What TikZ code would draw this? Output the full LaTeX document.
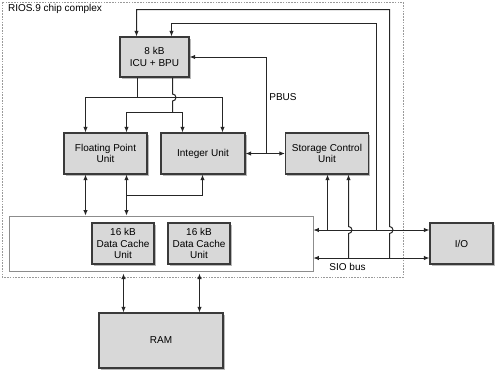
\documentclass[tikz,border=0pt]{standalone}
\usepackage{fontspec}
\setmainfont{Liberation Sans}
\usetikzlibrary{arrows.meta,shadows}
\definecolor{boxgray}{HTML}{D8D8D8}
\definecolor{edgegray}{HTML}{3A3A3A}
\definecolor{framegray}{HTML}{9A9A9A}
\tikzset{
  unitbox/.style={draw=edgegray, line width=1.2pt, fill=boxgray, align=center, inner sep=1pt,
    drop shadow={shadow xshift=1.8pt, shadow yshift=-1.8pt, fill=black!55, opacity=.5}},
  wire/.style={line width=1pt, draw=black!85},
  >={Latex[length=5.5pt,width=4.5pt]}
}
\begin{document}
\begin{tikzpicture}[x=1pt, y=-1pt, font=\fontsize{10}{11.6}\selectfont]
    \useasboundingbox (0,0) rectangle (500,376);
    % chip complex frame
    \draw [framegray, line width=0.7pt, dash pattern=on 1.6pt off 1.2pt] (2,2) rectangle (403,277);
    \node [anchor=west] (chip) at (4.5,8.5) {RIOS.9 chip complex};
    \node [draw=black!45, line width=0.8pt, fill=white, minimum width=304pt, minimum height=55pt, inner sep=0] (mem) at (161,243.5) {};
    % units
    \node [unitbox, minimum width=69pt, minimum height=40pt] (icu) at (154.5,57) {8 kB\\ICU + BPU};
    \node [unitbox, minimum width=83pt, minimum height=41pt] (fpu) at (105.5,153.5) {Floating Point\\Unit};
    \node [unitbox, minimum width=84pt, minimum height=41pt] (iu) at (203,153.5) {Integer Unit};
    \node [unitbox, minimum width=83pt, minimum height=41pt] (scu) at (327,153.5) {Storage Control\\Unit};
    \node [unitbox, minimum width=62pt, minimum height=41pt] (dca) at (123,243.5) {16 kB\\Data Cache\\Unit};
    \node [unitbox, minimum width=62pt, minimum height=41pt] (dcb) at (199,243.5) {16 kB\\Data Cache\\Unit};
    \node [unitbox, minimum width=124pt, minimum height=55pt] (ram) at (161,340.5) {RAM};
    \node [unitbox, minimum width=63pt, minimum height=41pt] (io) at (461.5,243.5) {I/O};
    % loops back to the ICU
    \draw [wire, ->] (389.5,258) -- (389.5,233.5) arc [start angle=-90, end angle=90, radius=3.5pt] -- (389.5,9.5) -| (136.5,0 |- icu.north);
    \draw [wire, ->] (376,230) -- (376,23.5) -| (171.5,0 |- icu.north);
    \draw [wire, ->] (266,0 |- iu.east) |- (icu.east);
    \draw [wire, <->] (iu.east) -- (scu.west);
    \node (pbus) at (283,97.5) {PBUS};
    % ICU to the units
    \draw [wire, ->] (137.5,0 |- icu.south) -- (137.5,97.5) -| (85.5,0 |- fpu.north);
    \draw [wire, ->] (137.5,97.5) -| (222.5,0 |- iu.north);
    \draw [wire] (172.5,0 |- icu.south) -- (172.5,94) arc [start angle=90, end angle=-90, radius=3.5pt] -- (172.5,112.5);
    \draw [wire, ->] (172.5,112.5) -| (126.5,0 |- fpu.north);
    \draw [wire, ->] (172.5,112.5) -| (182.5,0 |- iu.north);
    % units to the data caches
    \draw [wire, <->] (85.5,0 |- fpu.south) -- (85.5,0 |- mem.north);
    \draw [wire, <->] (126.5,0 |- fpu.south) -- (126.5,0 |- mem.north);
    \draw [wire, ->] (126.5,195.5) -| (202.5,0 |- iu.south);
    % SIO bus
    \draw [wire, ->] (327.5,230) -- (327.5,0 |- scu.south);
    \draw [wire, ->] (348.5,258) -- (348.5,233.5) arc [start angle=-90, end angle=90, radius=3.5pt] -- (348.5,0 |- scu.south);
    \draw [wire, <->] (mem.east |- 0,230) -- (io.west |- 0,230);
    \draw [wire, <->] (mem.east |- 0,258) -- (io.west |- 0,258);
    \node (sio) at (347.5,266.5) {SIO bus};
    % RAM
    \draw [wire, <->] (123.5,273.5) -- (123.5,0 |- ram.north);
    \draw [wire, <->] (199.5,273.5) -- (199.5,0 |- ram.north);
\end{tikzpicture}
\end{document}
